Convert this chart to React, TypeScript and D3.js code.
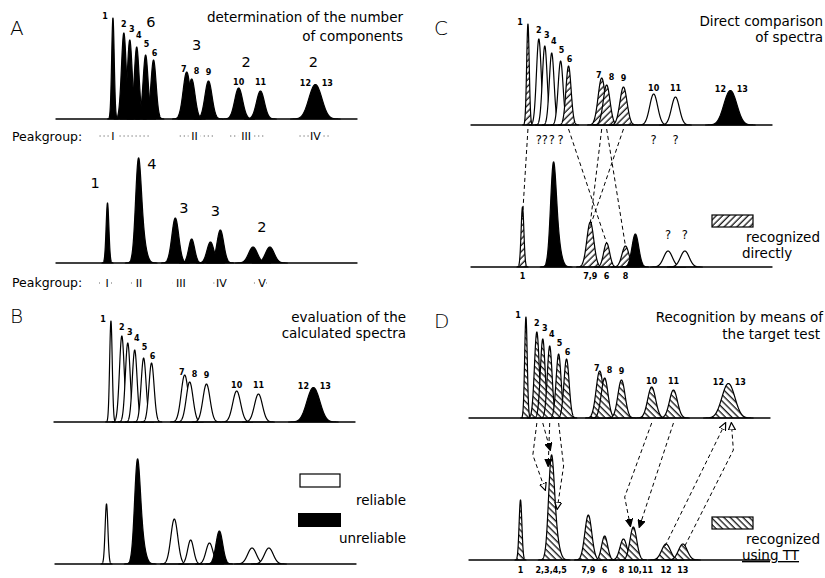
import React, { useEffect, useRef } from "react";
import * as d3 from "d3";

// 13 pure components (reference spectrum): retention time, height, peak sd
const compNames = ["1", "2", "3", "4", "5", "6", "7", "8", "9", "10", "11", "12", "13"];
const compTimes = [5.55, 6.65, 7.25, 7.95, 8.85, 9.65, 13.0, 13.5, 15.2, 18.25, 20.45, 25.7, 26.3];
const compHeights = [101, 86, 79, 72, 64, 59, 47, 40, 38, 31, 28, 20, 20];
const compWidths = [0.13, 0.24, 0.24, 0.24, 0.25, 0.26, 0.36, 0.34, 0.36, 0.4, 0.4, 0.55, 0.55];
const compBands = [0, 1, 2, 3, 4, 5, 6, 7, 8, 9, 10, 11, 11]; // 12 + 13 not resolved

// measured mixture
const mixTimes = [5.0, 8.1, 8.4, 11.85, 13.5, 15.4, 16.4, 19.7, 21.4];
const mixHeights = [60, 80, 32, 45, 24, 21, 33, 16, 16];
const mixWidths = [0.14, 0.28, 0.4, 0.35, 0.3, 0.35, 0.34, 0.44, 0.44];
const mixBands = [0, 1, 1, 2, 3, 4, 5, 6, 7];
const mixNames = ["1", "2,3,4,5", "7,9", "6", "8", "10,11", "12", "13"];

// peakgroups
const refGroupNames = ["I", "II", "III", "IV"];
const refGroupCounts = [6, 3, 2, 2];
const refGroupFrom = [4.2, 12.3, 17.4, 24.4];
const refGroupTo = [9.3, 15.9, 20.9, 27.4];
const refGroupMark = [5.55, 13.8, 19.0, 26.0];
const mixGroupNames = ["I", "II", "III", "IV", "V"];
const mixGroupCounts = [1, 4, 3, 3, 2];
const mixGroupMark = [4.95, 8.18, 12.4, 16.5, 20.6];

// band classification  k = black, w = white, c = recognized directly, d = recognized by TT
const refFillA = ["k", "k", "k", "k", "k", "k", "k", "k", "k", "k", "k", "k"];
const mixFillA = ["k", "k", "k", "k", "k", "k", "k", "k"];
const refFillB = ["w", "w", "w", "w", "w", "w", "w", "w", "w", "w", "w", "k"];
const mixFillB = ["w", "k", "w", "w", "w", "k", "w", "w"];
const refFillC = ["c", "w", "w", "w", "w", "c", "c", "c", "c", "w", "w", "k"];
const mixFillC = ["c", "k", "c", "c", "c", "k", "w", "w"];
const refFillD = ["d", "d", "d", "d", "d", "d", "d", "d", "d", "d", "d", "d"];
const mixFillD = ["d", "d", "d", "d", "d", "d", "d", "d"];

// unrecognized components / peaks in C
const unknownComps = [1, 2, 3, 4, 9, 10];
const unknownMixBands = [6, 7];
const directLabels = [0, 2, 3, 4];

// assignments: component -> mixture band, height where the link ends
const linkCFrom = [0, 5, 6, 8, 7];
const linkCTo = [0, 3, 2, 2, 4];
const linkCEndH = [50, 24, 44, 41, 21];
const linkDFrom = [1, 2, 3, 4, 9, 10, 11, 12];
const linkDTo = [1, 1, 1, 1, 5, 5, 6, 7];
const linkDEndH = [70, 110, 94, 51, 34, 33, 14, 14];

// layout offsets
const compLabelDx = [-8, 0, 2, 2, 1, 1, -3, 5, 0, 0, 0, -7, 9];
const compLabelDy = [1, -6, -8, -9, -8, -4, 0, -5, -6, -3, -6, -13, -13];
const refCountDx = [38, 2, 0, -2];
const refCountRise = [92, 69, 52, 52];
const mixCountDx = [-12, 13, 3, -6, 0];
const mixCountRise = [75, 94, 50, 47, 31];
const linkDEndDx = [-6, -1, -3, 6, -3, 6, -1, 2];
const linkDBend: ([number, number] | null)[] = [[-4, 32], null, null, [5, 43], [-27, 74], null, null, [2, 27]];
const linkDUp = [false, false, false, false, false, false, true, true];
const linkDOpen = [true, false, false, true, false, false, true, true];
const mixLabelDxD = [0, 0, 0, 0, -2, 7, 0, 0];

const W = 825;
const H = 578;
const FONT = "DejaVu Sans";
const TITLE = 13.5;

type Spec = { times: number[]; heights: number[]; widths: number[]; bands: number[] };
const refSpec: Spec = { times: compTimes, heights: compHeights, widths: compWidths, bands: compBands };
const mixSpec: Spec = { times: mixTimes, heights: mixHeights, widths: mixWidths, bands: mixBands };

function bandCurve(spec: Spec, b: number): [number, number][] {
  const idx = spec.bands.map((v, i) => (v === b ? i : -1)).filter(i => i >= 0);
  const lo = d3.min(idx, i => spec.times[i] - 4 * spec.widths[i]) as number;
  const hi = d3.max(idx, i => spec.times[i] + 4 * spec.widths[i]) as number;
  const ts = d3.range(lo, hi, 0.01).concat([hi]);
  return ts.map(t => [
    t,
    d3.sum(idx, i => spec.heights[i] * Math.exp(-((t - spec.times[i]) ** 2) / (2 * spec.widths[i] ** 2))),
  ]);
}
const bandTop = (spec: Spec, b: number) => d3.max(bandCurve(spec, b), d => d[1]) as number;

const fillOf = (f: string) =>
  f === "k" ? "#000" : f === "w" ? "#fff" : f === "c" ? "url(#hatchC)" : "url(#hatchD)";

const panels = [
  { key: "A", refX: [58, 355], refBase: 119, mixX: [58, 355], mixBase: 263, refFill: refFillA, mixFill: mixFillA },
  { key: "B", refX: [56, 353], refBase: 422, mixX: [57, 354], mixBase: 564, refFill: refFillB, mixFill: mixFillB },
  { key: "C", refX: [473, 770], refBase: 125, mixX: [473, 770], mixBase: 267, refFill: refFillC, mixFill: mixFillC },
  { key: "D", refX: [471, 768], refBase: 418, mixX: [471, 768], mixBase: 560, refFill: refFillD, mixFill: mixFillD },
];

const App: React.FC = () => {
  const svgRef = useRef<SVGSVGElement>(null);

  useEffect(() => {
    if (!svgRef.current) return;
    const svg = d3.select(svgRef.current);
    svg.selectAll("*").remove();

    const defs = svg.append("defs");
    [["hatchC", 45], ["hatchD", -45]].forEach(([id, ang]) => {
      const p = defs.append("pattern").attr("id", id as string).attr("patternUnits", "userSpaceOnUse")
        .attr("width", 4.5).attr("height", 4.5).attr("patternTransform", `rotate(${ang})`);
      p.append("rect").attr("width", 4.5).attr("height", 4.5).attr("fill", "#fff");
      p.append("line").attr("x1", 2).attr("x2", 2).attr("y1", 0).attr("y2", 4.5)
        .attr("stroke", "#000").attr("stroke-width", 1.2);
    });
    [["arrowFilled", "#000"], ["arrowOpen", "#fff"]].forEach(([id, fill]) => {
      defs.append("marker").attr("id", id).attr("viewBox", "0 0 8 8").attr("refX", 7).attr("refY", 4)
        .attr("markerUnits", "userSpaceOnUse").attr("markerWidth", 8).attr("markerHeight", 8)
        .attr("orient", "auto")
        .append("path").attr("d", "M0,0.5 L7.5,4 L0,7.5 Z").attr("fill", fill)
        .attr("stroke", "#000").attr("stroke-width", 1.2);
    });

    const txt = (x: number, y: number, s: string, size: number, anchor = "start", weight = "normal") =>
      svg.append("text").attr("x", x).attr("y", y).attr("text-anchor", anchor)
        .attr("font-family", FONT).attr("font-size", size).attr("font-weight", weight)
        .attr("fill", "#000").text(s);

    const drawSpectrum = (spec: Spec, xs: d3.ScaleLinear<number, number>, base: number, fills: string[]) => {
      const ys = d3.scaleLinear().domain([0, 100]).range([base, base - 100]);
      const g = svg.append("g");
      const nb = (d3.max(spec.bands) as number) + 1;
      d3.range(nb).forEach(b => {
        g.append("path").datum(bandCurve(spec, b))
          .attr("d", d3.area<[number, number]>().x(d => xs(d[0])).y0(base).y1(d => ys(d[1])))
          .attr("fill", fillOf(fills[b])).attr("stroke", "#000").attr("stroke-width", 1.2)
          .attr("stroke-linejoin", "round");
      });
      g.append("line").attr("x1", xs(-0.25)).attr("x2", xs(30.25)).attr("y1", base).attr("y2", base)
        .attr("stroke", "#000").attr("stroke-width", 1.5);
      return ys;
    };

    const scales: Record<string, any> = {};
    panels.forEach(p => {
      const xr = d3.scaleLinear().domain([0, 30]).range(p.refX);
      const xm = d3.scaleLinear().domain([0, 30]).range(p.mixX);
      const yr = drawSpectrum(refSpec, xr, p.refBase, p.refFill);
      const ym = drawSpectrum(mixSpec, xm, p.mixBase, p.mixFill);
      scales[p.key] = { xr, xm, yr, ym, p };
      // component numbers on reference spectrum
      compNames.forEach((n, i) => {
        txt(xr(compTimes[i]) + compLabelDx[i], yr(compHeights[i]) + compLabelDy[i], n, 8, "middle", "bold");
      });
    });

    // panel letters and titles
    txt(10, 35, "A", 20, "start", "300");
    txt(10, 323, "B", 20, "start", "300");
    txt(434, 35, "C", 20, "start", "300");
    txt(434, 328, "D", 20, "start", "300");
    txt(403, 22, "determination of the number", TITLE, "end");
    txt(403, 41, "of components", TITLE, "end");
    txt(406, 322, "evaluation of the", TITLE, "end");
    txt(406, 338, "calculated spectra", TITLE, "end");
    txt(823, 26, "Direct comparison", TITLE, "end");
    txt(823, 42, "of spectra", TITLE, "end");
    txt(823, 322, "Recognition by means of", TITLE, "end");
    txt(820, 339, "the target test", TITLE, "end");

    // --- panel A: peakgroups
    const A = scales.A;
    const numeral = (x: number, y: number, n: string) => {
      const w = n.length * 4 + 4;
      svg.append("rect").attr("x", x - w / 2).attr("y", y - 10).attr("width", w).attr("height", 12).attr("fill", "#fff");
      txt(x, y, n, 11, "middle");
    };
    refGroupNames.forEach((n, i) => {
      txt(A.xr(refGroupMark[i]) + refCountDx[i], A.p.refBase - refCountRise[i], String(refGroupCounts[i]), 14.5, "middle");
      svg.append("line").attr("x1", A.xr(refGroupFrom[i])).attr("x2", A.xr(refGroupTo[i]))
        .attr("y1", 136).attr("y2", 136).attr("stroke", "#444").attr("stroke-width", 1)
        .attr("stroke-dasharray", "1,3");
      numeral(A.xr(refGroupMark[i]), 140, n);
    });
    txt(12, 141, "Peakgroup:", 12.5);
    mixGroupNames.forEach((n, i) => {
      txt(A.xm(mixGroupMark[i]) + mixCountDx[i], A.p.mixBase - mixCountRise[i], String(mixGroupCounts[i]), 14.5, "middle");
      svg.append("line").attr("x1", A.xm(mixGroupMark[i]) - 8).attr("x2", A.xm(mixGroupMark[i]) + 8)
        .attr("y1", 283).attr("y2", 283).attr("stroke", "#666").attr("stroke-width", 1)
        .attr("stroke-dasharray", "1,3");
      numeral(A.xm(mixGroupMark[i]), 287, n);
    });
    txt(12, 287, "Peakgroup:", 12.5);

    // --- panel B legend
    svg.append("rect").attr("x", 300).attr("y", 474).attr("width", 40).attr("height", 13)
      .attr("fill", "#fff").attr("stroke", "#000").attr("stroke-width", 1.2);
    txt(406, 505, "reliable", TITLE, "end");
    svg.append("rect").attr("x", 298).attr("y", 513).attr("width", 43).attr("height", 14).attr("fill", "#000");
    txt(406, 543, "unreliable", TITLE, "end");

    // --- panel C
    const C = scales.C;
    const dashed = (pts: [number, number][], marker?: string) => {
      const path = svg.append("path").attr("d", d3.line()(pts) as string).attr("fill", "none")
        .attr("stroke", "#000").attr("stroke-width", 1).attr("stroke-dasharray", "4,3");
      if (marker) path.attr("marker-end", `url(#${marker})`);
    };
    linkCFrom.forEach((c, i) => {
      dashed([
        [C.xr(compTimes[c]), C.p.refBase + 4],
        [C.xm(d3.mean(mixTimes.filter((_, j) => mixBands[j] === linkCTo[i])) as number), C.ym(linkCEndH[i])],
      ]);
    });
    unknownComps.forEach(c => txt(C.xr(compTimes[c]), C.p.refBase + 19, "?", 11.5, "middle"));
    unknownMixBands.forEach(b => {
      const t = d3.mean(mixTimes.filter((_, j) => mixBands[j] === b)) as number;
      txt(C.xm(t), C.ym(bandTop(mixSpec, b)) - 12, "?", 11.5, "middle");
    });
    directLabels.forEach(b => {
      const t = mixTimes[mixBands.indexOf(b)];
      txt(C.xm(t), C.p.mixBase + 12, mixNames[b], 8, "middle", "bold");
    });
    svg.append("rect").attr("x", 712).attr("y", 215).attr("width", 41).attr("height", 12)
      .attr("fill", "url(#hatchC)").attr("stroke", "#000").attr("stroke-width", 1.2);
    txt(820, 242, "recognized", TITLE, "end");
    txt(742, 258, "directly", TITLE);

    // --- panel D
    const D = scales.D;
    linkDFrom.forEach((c, i) => {
      const bt = mixTimes[mixBands.indexOf(linkDTo[i])];
      const s: [number, number] = [D.xr(compTimes[c]), D.p.refBase + 5];
      const e: [number, number] = [D.xm(bt) + linkDEndDx[i], D.ym(linkDEndH[i])];
      const bend = linkDBend[i];
      let pts: [number, number][] = bend ? [s, [s[0] + bend[0], s[1] + bend[1]], e] : [s, e];
      if (linkDUp[i]) pts = pts.slice().reverse();
      dashed(pts, linkDOpen[i] ? "arrowOpen" : "arrowFilled");
    });
    mixNames.forEach((n, b) => {
      const t = mixTimes[mixBands.indexOf(b)];
      txt(D.xm(t) + mixLabelDxD[b], D.p.mixBase + 13, n, 8, "middle", "bold");
    });
    svg.append("rect").attr("x", 712).attr("y", 517).attr("width", 41).attr("height", 12)
      .attr("fill", "url(#hatchD)").attr("stroke", "#000").attr("stroke-width", 1.2);
    txt(820, 544, "recognized", TITLE, "end");
    txt(742, 560, "using TT", TITLE).attr("text-decoration", "underline");
  }, []);

  return (
    <svg
      ref={svgRef}
      width={W}
      height={H}
      style={{ position: "absolute", left: 0, top: 0, background: "#fff" }}
    />
  );
};

export default App;
